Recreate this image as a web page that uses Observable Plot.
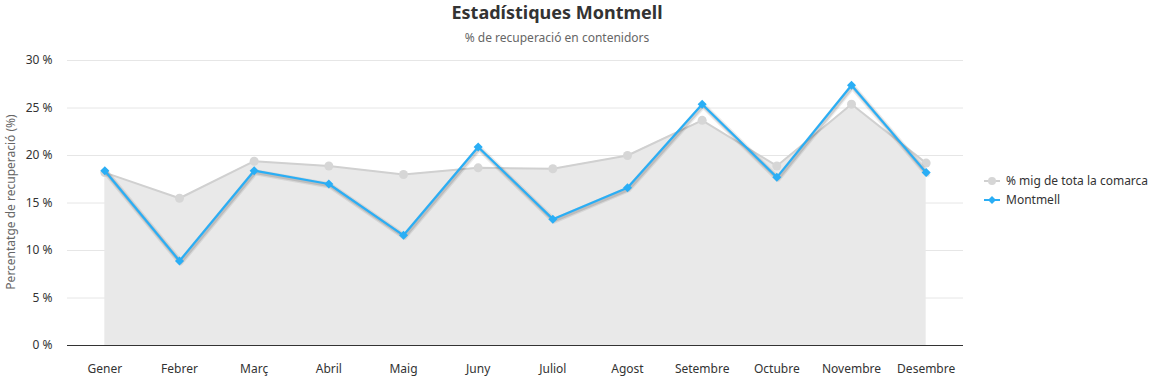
<!DOCTYPE html>
<html>
<head>
<meta charset="utf-8">
<script src="https://cdn.jsdelivr.net/npm/d3@7"></script>
<script src="https://cdn.jsdelivr.net/npm/@observablehq/plot@0.6"></script>
<style>
  html, body { margin: 0; padding: 0; background: #fff; }
  body { font-family: "Noto Sans", "Open Sans", sans-serif; }
  #wrap { position: relative; width: 1156px; height: 377px; overflow: hidden; }
  #head { height: 50px; position: relative; }
  #title { position: absolute; left: 0; width: 1114px; top: 0px; text-align: center; font-size: 18px; font-weight: bold; color: #333; }
  #subtitle { position: absolute; left: 0; width: 1114px; top: 29px; text-align: center; font-size: 12px; color: #666; }
  #ylab { position: absolute; left: 10px; top: 202px; transform: translate(-50%, -50%) rotate(-90deg); white-space: nowrap; font-size: 12px; color: #666; }
  #legend { position: absolute; left: 984px; top: 171px; font-size: 12px; color: #333; }
  .item { display: flex; align-items: center; height: 19px; }
  .item svg { margin-right: 6px; }
</style>
</head>
<body>
<div id="wrap">
  <div id="head">
    <div id="title">Estadístiques Montmell</div>
    <div id="subtitle">% de recuperació en contenidors</div>
  </div>
  <div id="chart"></div>
  <div id="ylab">Percentatge de recuperació (%)</div>
  <div id="legend"></div>
</div>
<script>
const months = ["Gener","Febrer","Març","Abril","Maig","Juny","Juliol","Agost","Setembre","Octubre","Novembre","Desembre"];
const comarca = [18.2, 15.5, 19.4, 18.9, 18.0, 18.7, 18.6, 20.0, 23.7, 18.9, 25.4, 19.2];
const montmell = [18.4, 8.9, 18.4, 17.0, 11.6, 20.9, 13.3, 16.6, 25.4, 17.7, 27.4, 18.2];
const yTicks = [0, 5, 10, 15, 20, 25, 30];
const seriesNames = ["% mig de tota la comarca", "Montmell"];

const greyLine = "#d0d0d0";
const greyDot = "#d6d6d6";
const areaFill = "#e9e9e9";
const blue = "#2aaef5";

const dataC = months.map((m, i) => ({month: m, value: comarca[i]}));
const dataM = months.map((m, i) => ({month: m, value: montmell[i]}));

const plot = Plot.plot({
  width: 1156,
  height: 327,
  marginTop: 10,
  marginBottom: 32,
  marginLeft: 67,
  marginRight: 193,
  style: {fontFamily: '"Noto Sans", "Open Sans", sans-serif', fontSize: "12px", color: "#666", background: "#fff"},
  x: {type: "point", domain: months, padding: 0.5, round: false, label: null},
  y: {domain: [0, 30], label: null},
  marks: [
    Plot.gridY(yTicks, {stroke: "#e6e6e6", strokeOpacity: 1}),
    Plot.areaY(dataC, {x: "month", y: "value", fill: areaFill, fillOpacity: 1}),
    Plot.ruleY([0], {stroke: "#333", strokeWidth: 1.2}),
    Plot.axisY({ticks: yTicks, tickSize: 0, tickPadding: 15, tickFormat: d => d + " %", label: null, fill: "#333"}),
    Plot.axisX({tickSize: 0, tickPadding: 19, label: null, fill: "#333"}),
    Plot.lineY(dataC, {x: "month", y: "value", stroke: greyLine, strokeWidth: 2}),
    Plot.dot(dataC, {x: "month", y: "value", r: 4.5, fill: greyDot, stroke: "none"}),
    // soft shadow under the Montmell series
    Plot.lineY(dataM, {x: "month", y: "value", stroke: "#000", strokeOpacity: 0.08, strokeWidth: 6, dx: 1, dy: 1.5}),
    Plot.lineY(dataM, {x: "month", y: "value", stroke: "#000", strokeOpacity: 0.12, strokeWidth: 3.5, dx: 1, dy: 1.5}),
    Plot.lineY(dataM, {x: "month", y: "value", stroke: blue, strokeWidth: 2.2}),
    Plot.dot(dataM, {x: "month", y: "value", symbol: "square", rotate: 45, r: 3.6, fill: blue, stroke: "none"})
  ]
});
document.getElementById("chart").appendChild(plot);

// legend
const legend = document.getElementById("legend");
const sym = [
  `<svg width="16" height="10"><line x1="0" y1="5" x2="16" y2="5" stroke="${greyLine}" stroke-width="2"/><circle cx="8" cy="5" r="4" fill="${greyDot}"/></svg>`,
  `<svg width="16" height="10"><line x1="0" y1="5" x2="16" y2="5" stroke="${blue}" stroke-width="2"/><path d="M8,1 L12,5 L8,9 L4,5Z" fill="${blue}"/></svg>`
];
seriesNames.forEach((n, i) => {
  const d = document.createElement("div");
  d.className = "item";
  d.innerHTML = sym[i] + `<span>${n}</span>`;
  legend.appendChild(d);
});
</script>
</body>
</html>
